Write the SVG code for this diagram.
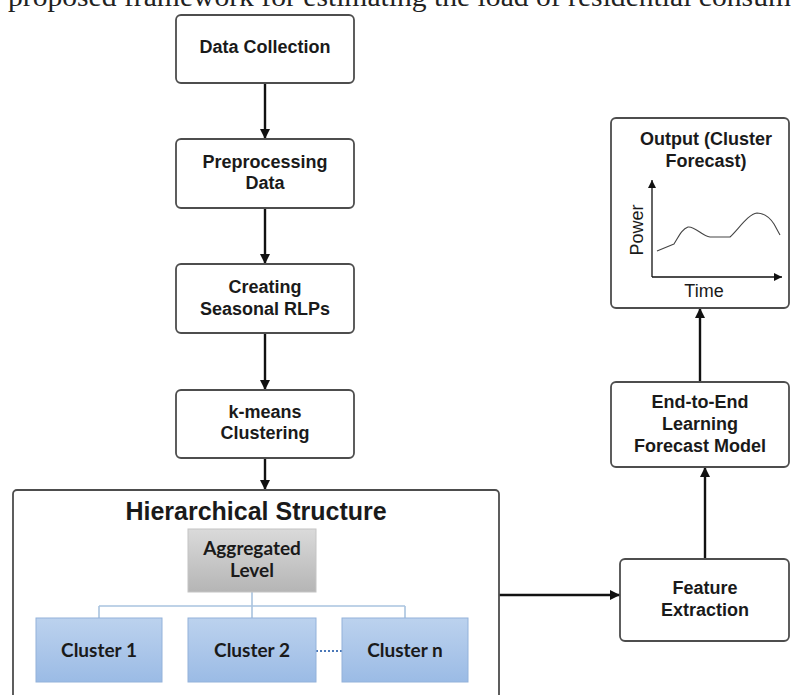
<svg xmlns="http://www.w3.org/2000/svg" width="791" height="695" viewBox="0 0 791 695">
  <defs>
    <marker id="arrow" viewBox="0 0 10 10" refX="10" refY="5" markerWidth="10" markerHeight="10" markerUnits="userSpaceOnUse" orient="auto">
      <path d="M0,0 L10,5 L0,10 Z" fill="#111"/>
    </marker>
    <marker id="axis" viewBox="0 0 10 10" refX="10" refY="5" markerWidth="9" markerHeight="8" markerUnits="userSpaceOnUse" orient="auto">
      <path d="M0,0 L10,5 L0,10 Z" fill="#111"/>
    </marker>
    <linearGradient id="grayFill" x1="0" y1="0" x2="0" y2="1">
      <stop offset="0" stop-color="#dadada"/>
      <stop offset="1" stop-color="#b5b5b5"/>
    </linearGradient>
    <linearGradient id="blueFill" x1="0" y1="0" x2="0" y2="1">
      <stop offset="0" stop-color="#bcd2ee"/>
      <stop offset="1" stop-color="#9bbbe5"/>
    </linearGradient>
  </defs>
  <style>
    .box { fill: #ffffff; stroke: #4d4d4d; stroke-width: 1.8; }
    .lbl { font-family: "Liberation Sans", Arial, sans-serif; font-weight: bold; font-size: 18px; fill: #1a1a1a; text-anchor: middle; }
    .title { font-size: 25px; }
    .cal { font-family: Lato, "Liberation Sans", sans-serif; font-weight: bold; font-size: 19px; fill: #1a1a1a; text-anchor: middle; }
    .axt { font-family: "Liberation Sans", Arial, sans-serif; font-size: 18px; fill: #1a1a1a; text-anchor: middle; }
    .flow { fill: none; stroke: #111; stroke-width: 2.4; marker-end: url(#arrow); }
    .tree { fill: none; stroke: #a9c3df; stroke-width: 1.6; }
  </style>

  <rect width="791" height="695" fill="#ffffff"/>

  <!-- caption line running off the top edge -->
  <text x="8" y="6" font-family="'Liberation Serif', 'Times New Roman', serif" font-size="28" fill="#222" textLength="783" lengthAdjust="spacingAndGlyphs">proposed framework for estimating the load of residential consum</text>

  <!-- connectors -->
  <g id="connectors">
    <line class="flow" x1="265" y1="83" x2="265" y2="139"/>
    <line class="flow" x1="265" y1="208" x2="265" y2="264"/>
    <line class="flow" x1="265" y1="333" x2="265" y2="390"/>
    <line class="flow" x1="265" y1="458" x2="265" y2="490"/>
    <line class="flow" x1="499" y1="595" x2="620" y2="595"/>
    <line class="flow" x1="705" y1="559" x2="705" y2="467"/>
    <line class="flow" x1="700" y1="382" x2="700" y2="308"/>
  </g>

  <g id="data-collection">
    <rect class="box" x="176" y="15" width="178" height="68" rx="5"/>
    <text class="lbl" x="265" y="53">Data Collection</text>
  </g>

  <g id="preprocessing">
    <rect class="box" x="176" y="139" width="178" height="69" rx="5"/>
    <text class="lbl" x="265" y="168">Preprocessing</text>
    <text class="lbl" x="265" y="189">Data</text>
  </g>

  <g id="seasonal-rlps">
    <rect class="box" x="176" y="264" width="178" height="69" rx="5"/>
    <text class="lbl" x="265" y="293">Creating</text>
    <text class="lbl" x="265" y="315">Seasonal RLPs</text>
  </g>

  <g id="kmeans">
    <rect class="box" x="176" y="390" width="178" height="68" rx="5"/>
    <text class="lbl" x="265" y="418">k-means</text>
    <text class="lbl" x="265" y="439">Clustering</text>
  </g>

  <g id="hierarchical-structure">
    <rect class="box" x="13" y="490" width="486" height="230" rx="4"/>
    <text class="lbl title" x="256" y="520">Hierarchical Structure</text>

    <g id="tree-links">
      <line class="tree" x1="252" y1="592" x2="252" y2="618"/>
      <line class="tree" x1="99" y1="606" x2="405" y2="606"/>
      <line class="tree" x1="99" y1="606" x2="99" y2="618"/>
      <line class="tree" x1="405" y1="606" x2="405" y2="618"/>
      <line x1="316" y1="651" x2="342" y2="651" stroke="#4a78b8" stroke-width="2" stroke-dasharray="2 2"/>
    </g>

    <g id="aggregated-level">
      <rect x="188" y="529" width="128" height="63" fill="url(#grayFill)" stroke="#c4c4c4" stroke-width="1"/>
      <text class="cal" x="252" y="555">Aggregated</text>
      <text class="cal" x="252" y="577">Level</text>
    </g>

    <g id="cluster-1">
      <rect x="36" y="618" width="126" height="64" fill="url(#blueFill)" stroke="#93b2da" stroke-width="1"/>
      <text class="cal" x="99" y="657">Cluster 1</text>
    </g>
    <g id="cluster-2">
      <rect x="188" y="618" width="128" height="64" fill="url(#blueFill)" stroke="#93b2da" stroke-width="1"/>
      <text class="cal" x="252" y="657">Cluster 2</text>
    </g>
    <g id="cluster-n">
      <rect x="342" y="618" width="126" height="64" fill="url(#blueFill)" stroke="#93b2da" stroke-width="1"/>
      <text class="cal" x="405" y="657">Cluster n</text>
    </g>
  </g>

  <g id="feature-extraction">
    <rect class="box" x="620" y="559" width="169" height="82" rx="5"/>
    <text class="lbl" x="705" y="594">Feature</text>
    <text class="lbl" x="705" y="616">Extraction</text>
  </g>

  <g id="forecast-model">
    <rect class="box" x="611" y="382" width="178" height="85" rx="5"/>
    <text class="lbl" x="700" y="408">End-to-End</text>
    <text class="lbl" x="700" y="430">Learning</text>
    <text class="lbl" x="700" y="452">Forecast Model</text>
  </g>

  <g id="output">
    <rect class="box" x="611" y="118" width="178" height="190" rx="5"/>
    <text class="lbl" x="706" y="145">Output (Cluster</text>
    <text class="lbl" x="706" y="167">Forecast)</text>
    <!-- small power-vs-time sketch -->
    <line x1="652" y1="277" x2="652" y2="180" stroke="#111" stroke-width="1.3" marker-end="url(#axis)"/>
    <line x1="652" y1="277" x2="782" y2="277" stroke="#111" stroke-width="1.3" marker-end="url(#axis)"/>
    <path d="M657,251 L674,244 C679,236 682,229 688,227 C695,226 702,236 710,237 L730,237 C738,230 748,214 757,213 C764,213 770,218 774,224 L780,235" fill="none" stroke="#444" stroke-width="1.1" stroke-linejoin="round"/>
    <text class="axt" transform="translate(643,230) rotate(-90)">Power</text>
    <text class="axt" x="704" y="297">Time</text>
  </g>
</svg>
